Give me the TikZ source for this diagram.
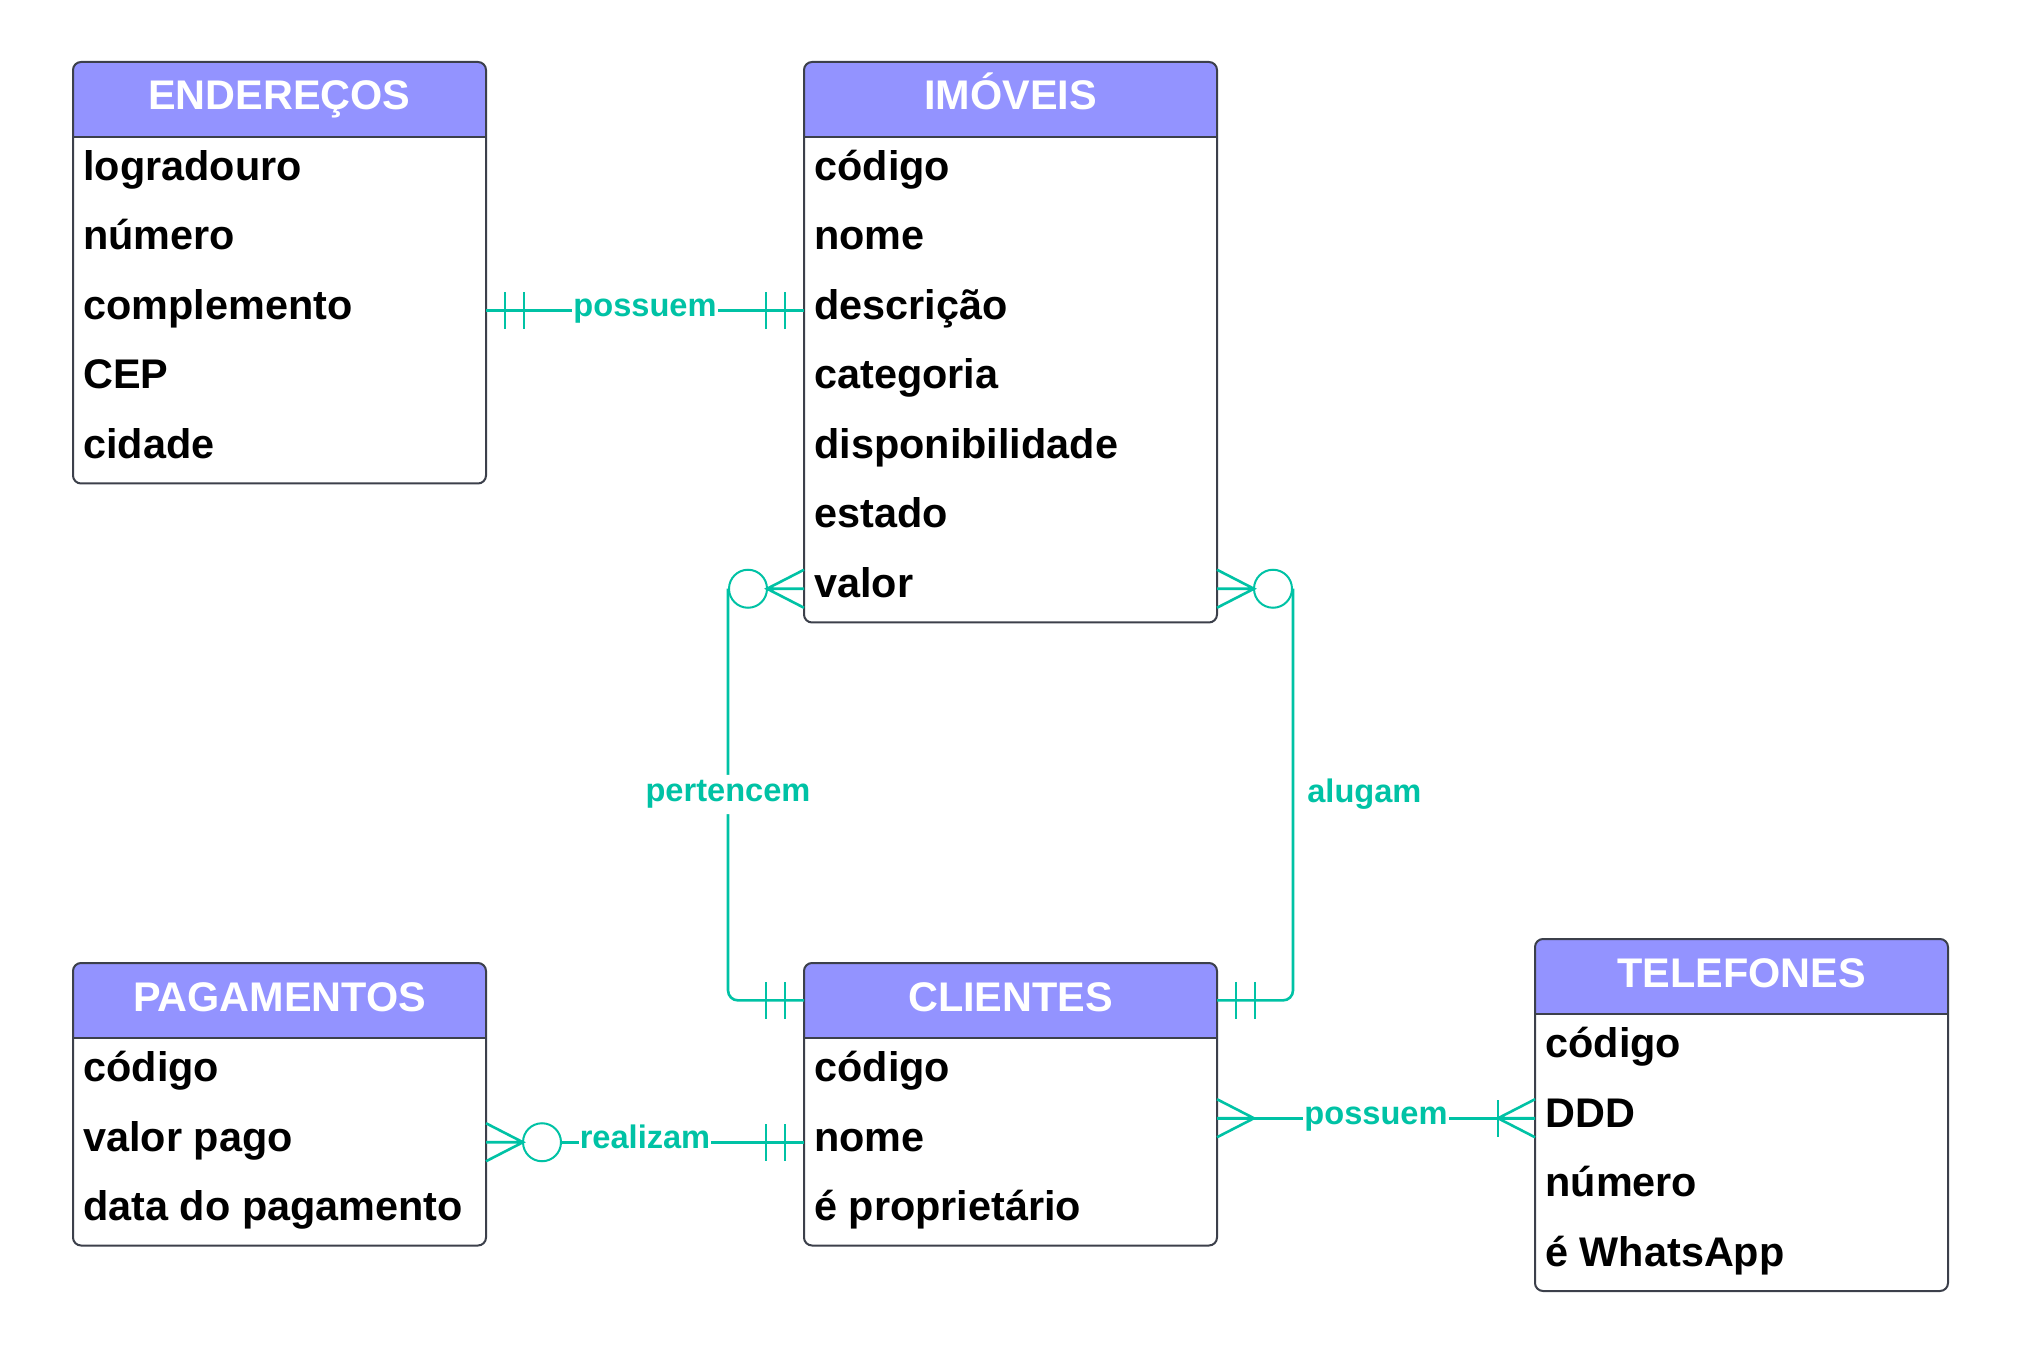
\documentclass[tikz,border=0pt]{standalone}
\usepackage{fontspec}
\setmainfont{Liberation Sans}
\usetikzlibrary{calc}
\definecolor{hdrfill}{RGB}{147,147,255}
\definecolor{relcol}{RGB}{0,194,165}
\definecolor{edgecol}{RGB}{60,64,75}

\tikzset{
  entnode/.style={anchor=north west, minimum width=206.5pt, inner sep=0pt, outer sep=0pt},
  boxline/.style={draw=edgecol, line width=1pt},
  hdrtxt/.style={anchor=base, inner sep=0pt, text=white, font=\fontsize{20.7}{24}\selectfont\bfseries},
  rowtxt/.style={anchor=base west, inner sep=0pt, text=black, font=\fontsize{20.7}{24}\selectfont\bfseries},
  rel/.style={draw=relcol, line width=1.3pt},
  lbl/.style={fill=white, text=relcol, inner xsep=0.5pt, inner ysep=2.8pt, font=\fontsize{16.3}{19}\selectfont\bfseries},
  lbltxt/.style={text=relcol, inner sep=0pt, font=\fontsize{16.3}{19}\selectfont\bfseries},
  pics/many/.style={code={\draw[rel] (0,-19) -- (37,0) -- (0,19) (0,0) -- (37,0);}},
  pics/zero/.style={code={\draw[draw=relcol, line width=1pt] (56,0) circle[radius=9.5pt];}},
  pics/two/.style={code={\draw[rel] (19,-18.5) -- (19,18.5) (38,-18.5) -- (38,18.5);}},
  pics/onebar/.style={code={\draw[rel] (37,-18.5) -- (37,18.5);}},
}

% #1 name, #2 x, #3 y, #4 rows, #5 title, #6 row texts
\newcommand\erent[6]{%
  \node[entnode, minimum height={(74+#4*69.5)*0.5pt}] (#1) at (#2,#3) {};
  \begin{scope}
    \clip[rounded corners=4pt] (#1.north west) rectangle (#1.south east);
    \fill[white] (#1.north west) rectangle (#1.south east);
    \fill[hdrfill] (#1.north west) rectangle ([yshift=-37.5pt]#1.north east);
  \end{scope}
  \draw[boxline] ([yshift=-37.5pt]#1.north west) -- ([yshift=-37.5pt]#1.north east);
  \draw[boxline, rounded corners=4pt] (#1.north west) rectangle (#1.south east);
  \node[hdrtxt] (#1-t) at ([yshift=-24pt]#1.north) {#5};
  \coordinate (#1-hw) at ([yshift=-18.7pt]#1.north west);
  \coordinate (#1-he) at ([yshift=-18.7pt]#1.north east);
  \foreach \rowtext [count=\i] in {#6} {
    \node[rowtxt] (#1-\i) at ([shift={(10,{75+(\i-1)*69.5+43.5})}]#1.north west) {\rowtext};
    \coordinate (#1-w\i) at ([shift={(0,{75+(\i-0.5)*69.5})}]#1.north west);
    \coordinate (#1-e\i) at ([shift={(0,{75+(\i-0.5)*69.5})}]#1.north east);
  }
}

\begin{document}
\begin{tikzpicture}[x=0.5pt, y=-0.5pt]
\fill[white] (0,0) rectangle (2025,1352);
\useasboundingbox (0,0) rectangle (2025,1352);

\erent{end}{73}{62}{5}{ENDEREÇOS}{logradouro,número,complemento,CEP,cidade}
\erent{imo}{804}{62}{7}{IMÓVEIS}{código,nome,descrição,categoria,disponibilidade,estado,valor}
\erent{pag}{73}{963}{3}{PAGAMENTOS}{código,valor pago,data do pagamento}
\erent{cli}{804}{963}{3}{CLIENTES}{código,nome,é proprietário}
\erent{tel}{1535}{939}{4}{TELEFONES}{código,DDD,número,é WhatsApp}

% ENDEREÇOS -- IMÓVEIS
\draw[rel] (end-e3) -- node[lbl, anchor=base, yshift=-3pt] (l1) {possuem} (imo-w3);
\pic at (end-e3) {two};
\pic[rotate=180] at (imo-w3) {two};

% IMÓVEIS -- CLIENTES (pertencem)
\coordinate (lvtop) at ([shift={(-76,0)}]imo-w7);
\coordinate (lvbot) at (lvtop |- cli-hw);
\draw[rel, rounded corners=5pt] (lvtop) -- node[lbl] (l2) {pertencem} (lvbot) -- (cli-hw);
\pic[rotate=180] at (imo-w7) {many};
\pic[rotate=180] at (imo-w7) {zero};
\pic[rotate=180] at (cli-hw) {two};

% IMÓVEIS -- CLIENTES (alugam)
\coordinate (rvtop) at ([shift={(76,0)}]imo-e7);
\coordinate (rvbot) at (rvtop |- cli-he);
\draw[rel, rounded corners=5pt] (rvtop) -- node[lbltxt, anchor=base west, xshift=6.5pt, yshift=-4pt] (l3) {alugam} (rvbot) -- (cli-he);
\pic at (imo-e7) {many};
\pic at (imo-e7) {zero};
\pic at (cli-he) {two};

% PAGAMENTOS -- CLIENTES
\draw[rel] ([shift={(75,0)}]pag-e2) -- (cli-w2);
\path (pag-e2) -- node[lbl, anchor=base, yshift=-3pt] (l4) {realizam} (cli-w2);
\pic at (pag-e2) {many};
\pic at (pag-e2) {zero};
\pic[rotate=180] at (cli-w2) {two};

% CLIENTES -- TELEFONES
\coordinate (clitel) at (cli.east |- tel-w2);
\draw[rel] (clitel) -- node[lbl, anchor=base, yshift=-3pt] (l5) {possuem} (tel-w2);
\pic at (clitel) {many};
\pic[rotate=180] at (tel-w2) {many};
\pic[rotate=180] at (tel-w2) {onebar};
\end{tikzpicture}
\end{document}
